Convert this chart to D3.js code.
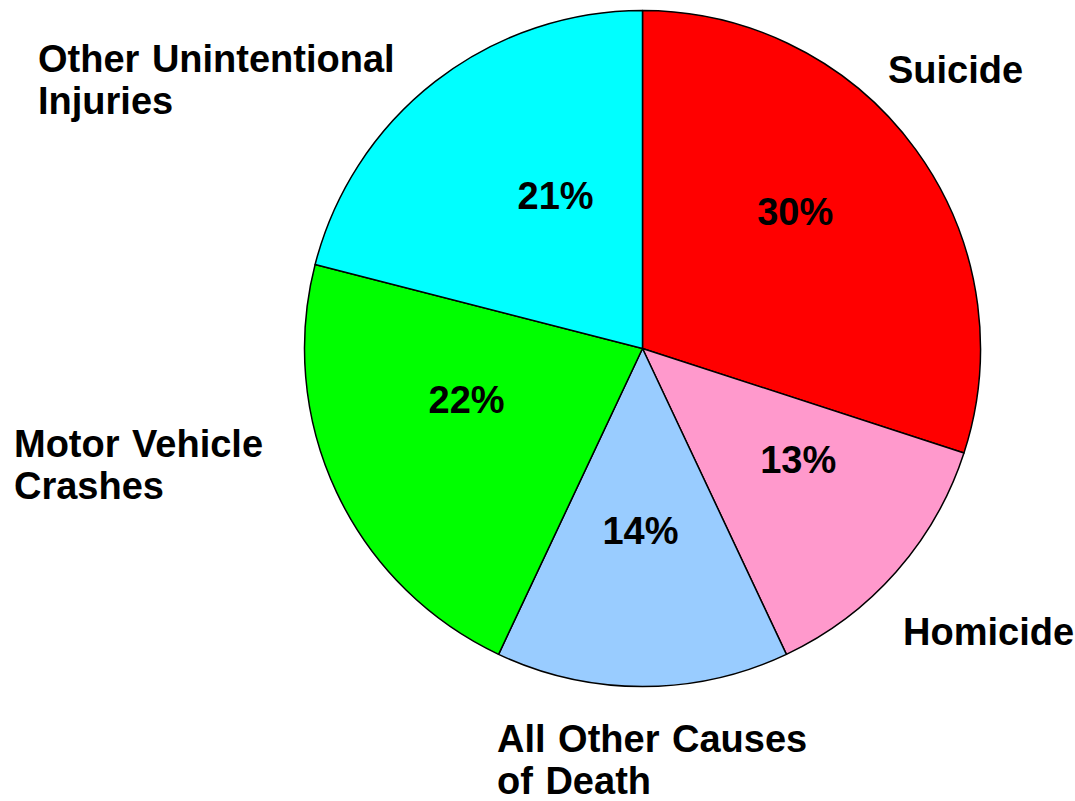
<!DOCTYPE html>
<html>
<head>
<meta charset="utf-8">
<script src="https://cdn.jsdelivr.net/npm/d3@7"></script>
<style>
  body { margin: 0; background: #fff; }
  text { font-family: "Liberation Sans", Arial, sans-serif; font-weight: bold; fill: #000; }
</style>
</head>
<body>
<svg id="chart" width="1075" height="801"></svg>
<script>
// slices, clockwise from 12 o'clock
const causes = ["Suicide", "Homicide", "All Other Causes of Death", "Motor Vehicle Crashes", "Other Unintentional Injuries"]
const shares = [30, 13, 14, 22, 21]
const colors = ["#FF0000", "#FF99CC", "#99CCFF", "#00FF00", "#00FFFF"]

// outer label lines (wrapped like the original)
const labelLines = [["Suicide"], ["Homicide"], ["All Other Causes", "of Death"], ["Motor Vehicle", "Crashes"], ["Other Unintentional", "Injuries"]]

// layout only: where outer labels sit, and small nudges for the % labels
const outerPos = [[888, 83], [903, 645], [497, 752], [14, 457], [38, 72]]
const pctNudge = [[-36, 1], [29, 0], [-2, 0], [-23, -20], [27, -6]]

const svg = d3.select("#chart")
const cx = 642.5, cy = 348.5, radius = 338

const pie = d3.pie().sort(null).value(d => d)
const arc = d3.arc().innerRadius(0).outerRadius(radius)
const arcs = pie(shares)

const g = svg.append("g").attr("transform", "translate(" + cx + "," + cy + ")")

g.selectAll("path")
  .data(arcs)
  .enter()
  .append("path")
  .attr("d", arc)
  .style("fill", (d, i) => colors[i])
  .style("stroke", "#000")
  .style("stroke-width", 1.5)
  .style("stroke-linejoin", "round")

// percent labels, placed on a per-slice ring like powerpoint does
const pctRadius = [0.69, 0.5, 0.54, 0.5, 0.55]
g.selectAll("text.pct")
  .data(arcs)
  .enter()
  .append("text")
  .attr("class", "pct")
  .attr("text-anchor", "middle")
  .style("font-size", "38px")
  .attr("x", (d, i) => {
    let a = (d.startAngle + d.endAngle) / 2
    return Math.sin(a) * radius * pctRadius[i] + pctNudge[i][0]
  })
  .attr("y", (d, i) => {
    let a = (d.startAngle + d.endAngle) / 2
    return -Math.cos(a) * radius * pctRadius[i] + 13 + pctNudge[i][1]
  })
  .text(d => d.data + "%")

// category labels
const lbl = svg.selectAll("text.cat")
  .data(labelLines)
  .enter()
  .append("text")
  .attr("class", "cat")
  .style("font-size", "38px")
  .style("word-spacing", "2px")
  .attr("x", (d, i) => outerPos[i][0])
  .attr("y", (d, i) => outerPos[i][1])

lbl.selectAll("tspan")
  .data((d, i) => d.map(t => ({ t: t, x: outerPos[i][0] })))
  .enter()
  .append("tspan")
  .attr("x", d => d.x)
  .attr("dy", (d, j) => j === 0 ? 0 : 42)
  .text(d => d.t)
</script>
</body>
</html>
